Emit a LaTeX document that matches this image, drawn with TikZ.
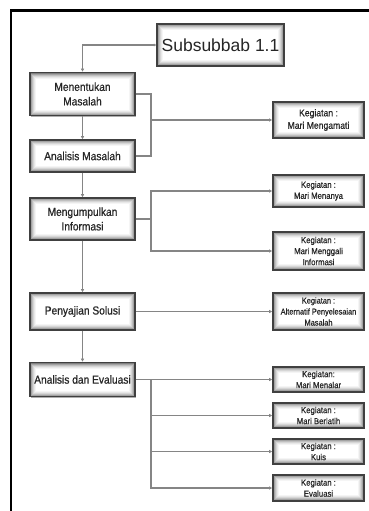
\documentclass[tikz,border=0pt]{standalone}
\usepackage{fontspec}
\setmainfont[FakeStretch=0.88,FakeBold=0.6]{Liberation Sans}
\newfontfamily\subfont{Liberation Sans}
\usetikzlibrary{arrows.meta,shadows,calc}
\tikzset{
  glowbox/.style={draw=black!75, line width=1.3pt, fill=white, align=center, inner sep=1pt,
    text=black!85,
    drop shadow={shadow xshift=1.2pt, shadow yshift=-1.2pt, opacity=0.45, fill=black!70},
    path picture={
      \foreach \i/\c in {0/50,1/36,2/25,3/16,4/9,5/4}{
        \fill[black!\c] ([shift={(\i*1pt,-\i*1pt)}]path picture bounding box.north west)
          rectangle ([shift={(-\i*1pt,\i*1pt)}]path picture bounding box.south east);}
      \fill[white] ([shift={(6pt,-6pt)}]path picture bounding box.north west)
          rectangle ([shift={(-6pt,6pt)}]path picture bounding box.south east);
    }},
  leftbox/.style={glowbox, minimum width=105pt, font=\fontsize{11.6}{14.5}\selectfont},
  kbox/.style={glowbox, minimum width=91pt, font=\fontsize{8.8}{11}\selectfont},
  wire/.style={draw=black!48, line width=1.1pt},
  conn/.style={wire, -{Latex[length=3.2pt,width=3.6pt]}},
  frame/.style={draw=black, line width=2.2pt}
}
\begin{document}
\begin{tikzpicture}[x=1pt,y=-1pt]
\useasboundingbox (0,0) rectangle (368,511);
\draw[frame] (11,520) -- (11,10.5) -- (375,10.5);

% main chain
\node[glowbox, minimum width=127pt, minimum height=42pt, font=\subfont\fontsize{17.5}{20}\selectfont] (sub) at (220.5,45) {Subsubbab 1.1};
\node[leftbox, minimum height=43pt] (men) at (82.5,94) {Menentukan\\Masalah};
\node[leftbox, minimum height=32pt] (ana) at (82.5,156) {Analisis Masalah};
\node[leftbox, minimum height=42pt] (mgm) at (82.5,219) {Mengumpulkan\\Informasi};
\node[leftbox, minimum height=37pt] (pen) at (82.5,311.5) {Penyajian Solusi};
\node[leftbox, minimum height=34pt] (ade) at (82.5,379.5) {Analisis dan Evaluasi};

% activity boxes
\node[kbox, minimum height=36pt, font=\fontsize{9.8}{12.5}\selectfont] (k1) at (318.5,120) {Kegiatan :\\Mari Mengamati};
\node[kbox, minimum height=32pt] (k2) at (318.5,191) {Kegiatan :\\Mari Menanya};
\node[kbox, minimum height=38pt] (k3) at (318.5,251) {Kegiatan :\\Mari Menggali\\Informasi};
\node[kbox, minimum height=37pt, font=\fontsize{8.4}{11}\selectfont] (k4) at (318.5,311.5) {Kegiatan :\\Alternatif Penyelesaian\\Masalah};
\node[kbox, minimum height=25pt] (k5) at (318.5,379.5) {Kegiatan:\\Mari Menalar};
\node[kbox, minimum height=25pt] (k6) at (318.5,415.5) {Kegiatan :\\Mari Berlatih};
\node[kbox, minimum height=25pt] (k7) at (318.5,451.5) {Kegiatan :\\Kuis};
\node[kbox, minimum height=26pt] (k8) at (318.5,488) {Kegiatan :\\Evaluasi};

\coordinate (bx) at (151,0);
\coordinate (j1) at (bx |- k1.west);
\coordinate (j2) at (bx |- mgm.east);
\coordinate (j4) at (bx |- ade.east);

% connectors
\draw[conn, {Latex[length=2.4pt,width=3pt]}-{Latex[length=3.2pt,width=3.6pt]}] (sub.west) -| (men.north);
\draw[conn] (men.south) -- (ana.north);
\draw[conn] (ana.south) -- (mgm.north);
\draw[conn] (mgm.south) -- (pen.north);
\draw[conn] (pen.south) -- (ade.north);

\draw[wire] (men.east) -| (j1);
\draw[wire] (ana.east) -| (j1);
\draw[conn] (j1) -- (k1.west);

\draw[wire] (mgm.east) -- (j2);
\draw[conn] (j2) |- (k2.west);
\draw[conn] (j2) |- (k3.west);

\draw[conn] (pen.east) -- (k4.west);

\draw[conn] (ade.east) -- (k5.west);
\draw[conn] (j4) |- (k6.west);
\draw[conn] (j4) |- (k7.west);
\draw[conn] (j4) |- (k8.west);
\end{tikzpicture}
\end{document}
